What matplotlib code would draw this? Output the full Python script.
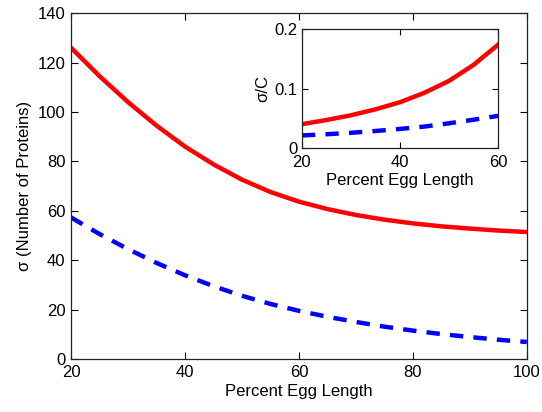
import matplotlib
matplotlib.use("Agg")
import matplotlib.pyplot as plt

plt.rcParams['font.family'] = ['Liberation Sans', 'DejaVu Sans']

# Main panel data
x_main = [20, 25, 30, 35, 40, 45, 50, 55, 60, 65, 70, 75, 80, 85, 90, 95, 100]
red_main = [126, 114.5, 104, 94.5, 86, 78.8, 72.6, 67.6, 63.7, 60.7, 58.3, 56.4, 54.9, 53.7, 52.8, 52.0, 51.4]
blue_main = [57.3, 50.6, 44.5, 38.9, 33.9, 29.5, 25.6, 22.3, 19.5, 17.1, 15.0, 13.1, 11.5, 10.1, 8.9, 7.8, 6.9]

# Inset data (sigma / C)
x_inset = [20, 25, 30, 35, 40, 45, 50, 55, 60]
red_inset = [0.040, 0.047, 0.055, 0.065, 0.077, 0.093, 0.113, 0.140, 0.174]
blue_inset = [0.021, 0.023, 0.0255, 0.0285, 0.032, 0.036, 0.0415, 0.0475, 0.054]

main_xticks = [20, 40, 60, 80, 100]
main_yticks = [0, 20, 40, 60, 80, 100, 120, 140]
inset_xticks = [20, 40, 60]
inset_yticks = [0, 0.1, 0.2]
inset_yticklabels = ['0', '0.1', '0.2']

fig = plt.figure(figsize=(5.42, 4.12), dpi=100)
ax = fig.add_axes([0.131, 0.1286, 0.841, 0.8395])
ax.plot(x_main, red_main, color='#ff0000', lw=3.2, solid_joinstyle='round')
ax.plot(x_main, blue_main, color='#0000ff', lw=3.2, dashes=(3.0, 2.3))
ax.set_xlim(20, 100)
ax.set_ylim(0, 140)
ax.set_xticks(main_xticks)
ax.set_yticks(main_yticks)
ax.tick_params(direction='in', top=True, right=True, labelsize=12, length=5, width=0.8, pad=4)
ax.set_xlabel('Percent Egg Length', fontsize=12, labelpad=3)
ax.set_ylabel('σ (Number of Proteins)', fontsize=12, labelpad=4)
for s in ax.spines.values():
    s.set_linewidth(0.9)
    s.set_color('#222222')

ins = fig.add_axes([0.557, 0.641, 0.362, 0.288])
ins.plot(x_inset, red_inset, color='#ff0000', lw=3.2, solid_joinstyle='round')
ins.plot(x_inset, blue_inset, color='#0000ff', lw=3.2, dashes=(3.0, 2.3))
ins.set_xlim(20, 60)
ins.set_ylim(0, 0.2)
ins.set_xticks(inset_xticks)
ins.set_yticks(inset_yticks)
ins.set_yticklabels(inset_yticklabels)
ins.tick_params(direction='in', top=True, right=True, labelsize=12, length=4, width=0.8, pad=3)
ins.tick_params(axis='x', pad=5)
ins.set_xlabel('Percent Egg Length', fontsize=12, labelpad=2)
ins.set_ylabel('σ/C', fontsize=12, labelpad=3)
for s in ins.spines.values():
    s.set_linewidth(0.9)
    s.set_color('#222222')

fig.savefig('out.png', dpi=100)
